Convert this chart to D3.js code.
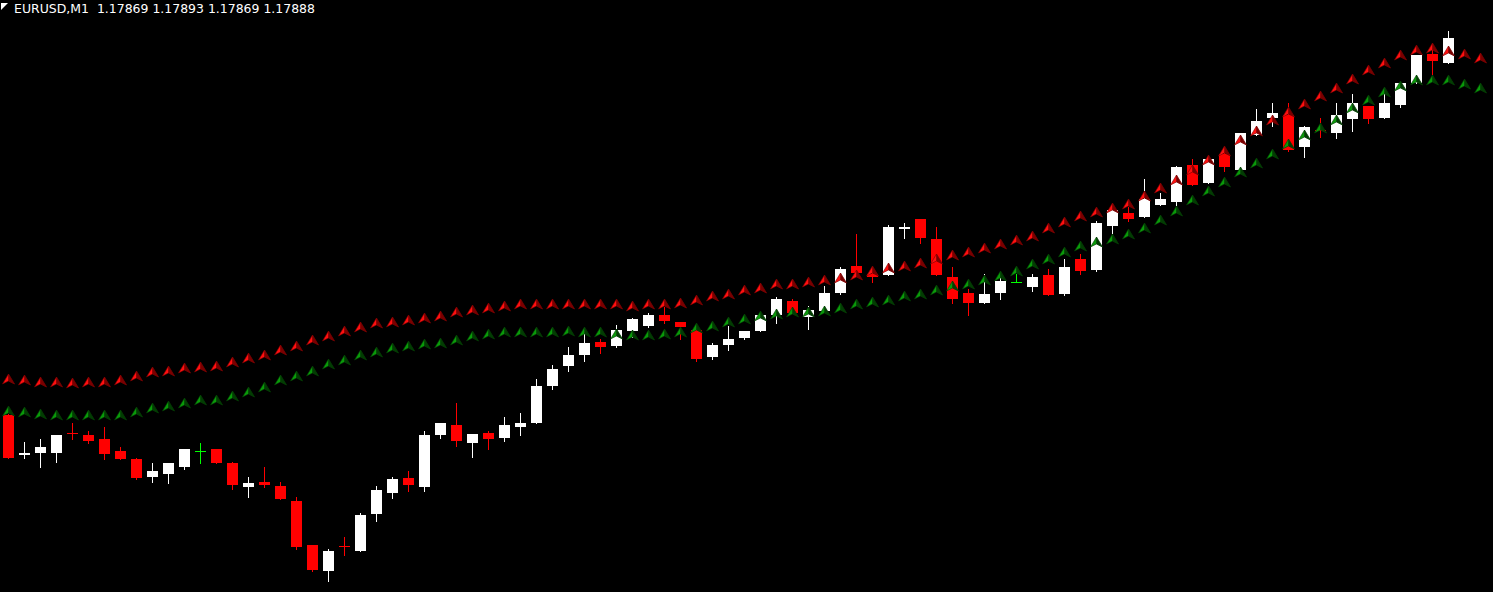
<!DOCTYPE html>
<html>
<head>
<meta charset="utf-8">
<script src="https://cdn.jsdelivr.net/npm/d3@7"></script>
<style>
  html, body { margin: 0; background: #000; overflow: hidden; }
  #chart svg { display: block; }
</style>
</head>
<body>
<div id="chart"></div>
<script>
// ── Data: EURUSD M1 bars (oldest → newest) ─────────────────────────────────
const open = [
  1.17605,1.17575,1.17577,1.17577,1.17592,1.17590,1.17587,1.17578,1.17572,1.17559,
  1.17561,1.17566,1.17578,1.17580,1.17569,1.17551,1.17555,1.17552,1.17541,1.17508,
  1.17488,1.17507,1.17503,1.17531,1.17547,1.17558,1.17551,1.17590,1.17598,1.17584,
  1.17592,1.17588,1.17596,1.17599,1.17627,1.17642,1.17650,1.17660,1.17657,1.17668,
  1.17672,1.17680,1.17675,1.17669,1.17649,1.17658,1.17663,1.17668,1.17680,1.17691,
  1.17679,1.17683,1.17697,1.17717,1.17711,1.17710,1.17745,1.17752,1.17737,1.17709,
  1.17697,1.17689,1.17697,1.17705,1.17701,1.17710,1.17696,1.17722,1.17714,1.17747,
  1.17757,1.17754,1.17763,1.17765,1.17793,1.17779,1.17801,1.17789,1.17815,1.17828,
  1.17830,1.17806,1.17819,1.17817,1.17827,1.17837,1.17828,1.17838,1.17854,1.17876,
  1.17869
];
const high = [
  1.17606,1.17585,1.17587,1.17590,1.17599,1.17593,1.17596,1.17581,1.17573,1.17569,
  1.17569,1.17580,1.17584,1.17580,1.17570,1.17559,1.17566,1.17555,1.17544,1.17508,
  1.17505,1.17514,1.17532,1.17552,1.17559,1.17563,1.17593,1.17599,1.17614,1.17591,
  1.17593,1.17604,1.17607,1.17632,1.17643,1.17656,1.17669,1.17662,1.17673,1.17678,
  1.17682,1.17686,1.17675,1.17669,1.17659,1.17672,1.17668,1.17682,1.17694,1.17692,
  1.17687,1.17702,1.17716,1.17741,1.17717,1.17748,1.17749,1.17752,1.17746,1.17716,
  1.17700,1.17711,1.17709,1.17711,1.17711,1.17715,1.17722,1.17726,1.17751,1.17760,
  1.17761,1.17782,1.17772,1.17792,1.17797,1.17800,1.17806,1.17817,1.17835,1.17839,
  1.17839,1.17822,1.17828,1.17839,1.17846,1.17837,1.17847,1.17854,1.17875,1.17884,
  1.17893
];
const low = [
  1.17573,1.17573,1.17566,1.17570,1.17587,1.17584,1.17572,1.17572,1.17557,1.17555,
  1.17554,1.17565,1.17569,1.17569,1.17550,1.17544,1.17551,1.17542,1.17505,1.17488,
  1.17481,1.17500,1.17503,1.17526,1.17543,1.17548,1.17548,1.17588,1.17582,1.17574,
  1.17580,1.17586,1.17590,1.17599,1.17625,1.17638,1.17646,1.17652,1.17656,1.17664,
  1.17671,1.17674,1.17662,1.17646,1.17647,1.17654,1.17662,1.17668,1.17674,1.17682,
  1.17670,1.17683,1.17696,1.17712,1.17705,1.17710,1.17738,1.17734,1.17710,1.17689,
  1.17680,1.17689,1.17692,1.17705,1.17698,1.17695,1.17695,1.17711,1.17713,1.17741,
  1.17751,1.17754,1.17763,1.17763,1.17778,1.17779,1.17788,1.17787,1.17815,1.17822,
  1.17803,1.17799,1.17814,1.17813,1.17818,1.17824,1.17828,1.17836,1.17854,1.17861,
  1.17869
];
const close = [
  1.17573,1.17577,1.17581,1.17590,1.17591,1.17586,1.17576,1.17572,1.17558,1.17563,
  1.17569,1.17580,1.17578,1.17569,1.17553,1.17554,1.17553,1.17542,1.17506,1.17489,
  1.17503,1.17506,1.17530,1.17549,1.17557,1.17553,1.17590,1.17599,1.17586,1.17591,
  1.17587,1.17598,1.17599,1.17627,1.17640,1.17650,1.17659,1.17656,1.17669,1.17677,
  1.17680,1.17676,1.17671,1.17647,1.17658,1.17662,1.17668,1.17680,1.17692,1.17682,
  1.17684,1.17697,1.17715,1.17712,1.17709,1.17746,1.17746,1.17738,1.17710,1.17692,
  1.17689,1.17696,1.17706,1.17705,1.17709,1.17695,1.17716,1.17713,1.17749,1.17759,
  1.17752,1.17767,1.17767,1.17791,1.17778,1.17797,1.17791,1.17817,1.17826,1.17832,
  1.17804,1.17821,1.17818,1.17830,1.17839,1.17827,1.17839,1.17854,1.17875,1.17871,
  1.17888
];

// indicator arrows, shifted 2 bars forward (93 values)
const upperArrows = [
  1.17636,1.17635,1.17634,1.17634,1.17633,1.17634,1.17634,1.17635,1.17638,1.17641,
  1.17642,1.17644,1.17645,1.17646,1.17649,1.17652,1.17654,1.17658,1.17661,1.17665,
  1.17668,1.17672,1.17675,1.17678,1.17679,1.17680,1.17682,1.17683,1.17686,1.17688,
  1.17689,1.17691,1.17692,1.17692,1.17692,1.17692,1.17692,1.17692,1.17692,1.17691,
  1.17692,1.17692,1.17693,1.17695,1.17698,1.17700,1.17703,1.17704,1.17707,1.17707,
  1.17709,1.17710,1.17712,1.17714,1.17717,1.17719,1.17721,1.17723,1.17726,1.17729,
  1.17731,1.17734,1.17737,1.17740,1.17743,1.17749,1.17754,1.17758,1.17761,1.17764,
  1.17767,1.17773,1.17779,1.17785,1.17793,1.17800,1.17807,1.17815,1.17822,1.17830,
  1.17836,1.17842,1.17848,1.17854,1.17861,1.17868,1.17873,1.17879,1.17883,1.17884,
  1.17882,1.17880,1.17877
];
const lowerArrows = [
  1.17612,1.17611,1.17610,1.17609,1.17609,1.17609,1.17609,1.17609,1.17611,1.17614,
  1.17616,1.17618,1.17620,1.17620,1.17623,1.17626,1.17630,1.17635,1.17638,1.17642,
  1.17647,1.17650,1.17654,1.17656,1.17659,1.17661,1.17662,1.17663,1.17665,1.17668,
  1.17670,1.17671,1.17671,1.17671,1.17671,1.17672,1.17671,1.17671,1.17670,1.17669,
  1.17669,1.17670,1.17671,1.17674,1.17676,1.17679,1.17681,1.17683,1.17685,1.17686,
  1.17686,1.17687,1.17689,1.17692,1.17694,1.17695,1.17698,1.17700,1.17703,1.17706,
  1.17707,1.17710,1.17713,1.17717,1.17722,1.17726,1.17731,1.17736,1.17739,1.17741,
  1.17745,1.17749,1.17755,1.17762,1.17770,1.17777,1.17784,1.17791,1.17798,1.17805,
  1.17812,1.17819,1.17824,1.17830,1.17839,1.17845,1.17851,1.17856,1.17860,1.17860,
  1.17860,1.17857,1.17854
];

const symbol = "EURUSD,M1";
const priceRange = [1.174725, 1.179165];   // visible price window, bottom → top

// ── Colours ────────────────────────────────────────────────────────────────
const COLOR = {
  bull: "#ffffff",
  bear: "#ff0000",
  doji: "#00ff00",
  upper: { light: "#ff1010", dark: "#7a0000" },
  lower: { light: "#0a9a0a", dark: "#033d03" },
};

// ── Layout ─────────────────────────────────────────────────────────────────
const width = 1493, height = 592;

const svg = d3.select("#chart").append("svg")
  .attr("width", width)
  .attr("height", height)
  .style("background", "#000");

const x = d3.scaleLinear().domain([0, upperArrows.length - 1]).range([8, 8 + 16 * (upperArrows.length - 1)]);
const y = d3.scaleLinear().domain(priceRange).range([height, 0]);

const bars = open.map((o, i) => ({ i, o, h: high[i], l: low[i], c: close[i] }));

function barColor(d) {
  if (d.c === d.o) return COLOR.doji;
  return d.c > d.o ? COLOR.bull : COLOR.bear;
}

// ── Candles ────────────────────────────────────────────────────────────────
const candle = svg.append("g")
  .attr("shape-rendering", "crispEdges")
  .selectAll("g")
  .data(bars)
  .join("g");

candle.append("rect")
  .attr("x", d => Math.round(x(d.i)))
  .attr("y", d => Math.round(y(d.h)))
  .attr("width", 1)
  .attr("height", d => Math.round(y(d.l)) - Math.round(y(d.h)) + 1)
  .attr("fill", barColor);

candle.append("rect")
  .attr("x", d => Math.round(x(d.i)) - 5)
  .attr("y", d => Math.round(y(Math.max(d.o, d.c))))
  .attr("width", 11)
  .attr("height", d => Math.max(1, Math.round(y(Math.min(d.o, d.c))) - Math.round(y(Math.max(d.o, d.c)))))
  .attr("fill", barColor);

// ── Arrows ─────────────────────────────────────────────────────────────────
function drawArrows(values, col) {
  const g = svg.append("g")
    .selectAll("g")
    .data(values)
    .join("g")
    .attr("transform", (v, i) => `translate(${Math.round(x(i)) + 0.5},${Math.round(y(v))})`);

  g.append("path")
    .attr("d", "M0,0 L6,10 L0,7 Z")
    .attr("fill", col.dark)
    .attr("stroke", col.dark)
    .attr("stroke-width", 0.8);

  g.append("path")
    .attr("d", "M0,0 L-6,10 L0,7 Z")
    .attr("fill", col.light)
    .attr("stroke", col.dark)
    .attr("stroke-width", 0.6);
}

drawArrows(upperArrows, COLOR.upper);
drawArrows(lowerArrows, COLOR.lower);

// ── Header ─────────────────────────────────────────────────────────────────
svg.append("path")
  .attr("d", "M1,3 L8,3 L1,10 Z")
  .attr("fill", "#ffffff");

const last = bars[bars.length - 1];
const fmt = d3.format(".5f");

svg.append("text")
  .attr("x", 14)
  .attr("y", 13)
  .attr("fill", "#ffffff")
  .attr("font-family", "'DejaVu Sans', Verdana, sans-serif")
  .attr("font-size", 12.5)
  .attr("textLength", 301)
  .attr("lengthAdjust", "spacingAndGlyphs")
  .style("white-space", "pre")
  .text(`${symbol}  ${fmt(last.o)} ${fmt(last.h)} ${fmt(last.l)} ${fmt(last.c)}`);
</script>
</body>
</html>
